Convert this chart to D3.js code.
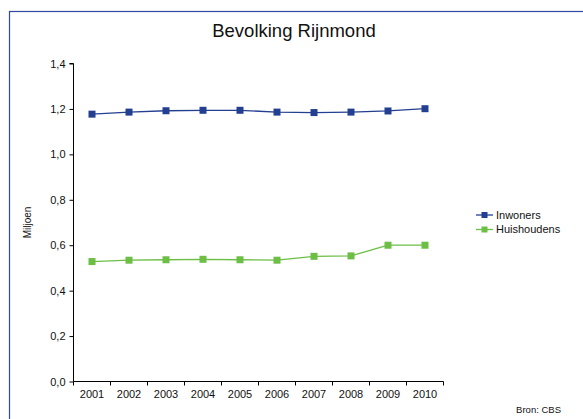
<!DOCTYPE html>
<html><head><meta charset="utf-8">
<script src="https://cdn.jsdelivr.net/npm/d3@7"></script>
<style>body{margin:0;background:#fff}svg{display:block;font-family:"Liberation Sans",Arial,sans-serif}</style>
</head><body><svg id="c" width="583" height="419"></svg>
<script>
const years = ["2001","2002","2003","2004","2005","2006","2007","2008","2009","2010"];
const inwoners = [1.177,1.186,1.192,1.194,1.194,1.186,1.184,1.186,1.191,1.201];
const huishoudens = [0.528,0.534,0.536,0.538,0.536,0.534,0.551,0.553,0.600,0.600];
const yTicks = [0,0.2,0.4,0.6,0.8,1.0,1.2,1.4];
const seriesNames = ["Inwoners","Huishoudens"];
const colors = ["#233f91","#6cbe45"];

const svg = d3.select("#c");
svg.append("rect").attr("x",9.5).attr("y",11.5).attr("width",620).attr("height",500)
  .attr("fill","#fff").attr("stroke","#2f4aa0").attr("stroke-width",1.2);

svg.append("text").attr("x",294).attr("y",37).attr("text-anchor","middle")
  .attr("font-size",18.5).attr("fill","#111").text("Bevolking Rijnmond");

const X0 = 73.5, X1 = 443.5, Y0 = 381.5, Y1 = 63.5;
const x = d3.scaleBand().domain(years).range([X0,X1]);
const y = d3.scaleLinear().domain([0,1.4]).range([Y0,Y1]);
const fmt = d => d3.format(".1f")(d).replace(".",",");

const gy = svg.append("g").attr("transform",`translate(${X0},0)`)
  .call(d3.axisLeft(y).tickValues(yTicks).tickFormat(fmt).tickSize(4).tickPadding(4));
const gx = svg.append("g").attr("transform",`translate(0,${Y0})`)
  .call(d3.axisBottom(x).tickSize(0).tickPadding(9));
svg.append("g").selectAll("line").data(years.concat(["end"])).join("line")
  .attr("x1",(d,i)=>X0+i*x.bandwidth()).attr("x2",(d,i)=>X0+i*x.bandwidth())
  .attr("y1",Y0).attr("y2",Y0+4).attr("stroke","#000");
[gy,gx].forEach(g=>{g.selectAll("path,line").attr("stroke","#000");g.selectAll("text").attr("font-size",11).attr("fill","#111").attr("font-family","Liberation Sans, Arial, sans-serif");});
gy.select(".domain").attr("d",`M-4,${Y1}H0V${Y0}`);
gx.select(".domain").attr("d",`M${X0},0H${X1}`);

svg.append("text").attr("transform",`translate(31,${(Y0+Y1)/2}) rotate(-90)`).attr("text-anchor","middle")
  .attr("font-size",10).attr("fill","#111").text("Miljoen");

const data = [inwoners, huishoudens];
const line = d3.line().x((d,i)=>x(years[i])+x.bandwidth()/2).y(d=>y(d));
data.forEach((vals,k)=>{
  svg.append("path").attr("d",line(vals)).attr("fill","none").attr("stroke",colors[k]).attr("stroke-width",1.3);
  svg.append("g").selectAll("rect").data(vals).join("rect")
    .attr("x",(d,i)=>x(years[i])+x.bandwidth()/2-3.5).attr("y",d=>y(d)-3.5)
    .attr("width",7).attr("height",7).attr("fill",colors[k]);
});

const lg = svg.append("g");
seriesNames.forEach((n,k)=>{
  const yy = 215 + k*14.5;
  lg.append("line").attr("x1",476).attr("x2",493).attr("y1",yy).attr("y2",yy).attr("stroke",colors[k]).attr("stroke-width",1.3);
  lg.append("rect").attr("x",481.5).attr("y",yy-3).attr("width",6).attr("height",6).attr("fill",colors[k]);
  lg.append("text").attr("x",496).attr("y",yy+3.8).attr("font-size",11).attr("fill","#111").text(n);
});

svg.append("text").attr("x",561).attr("y",413).attr("text-anchor","end").attr("font-size",9.5).attr("fill","#111").text("Bron: CBS");
</script></body></html>
